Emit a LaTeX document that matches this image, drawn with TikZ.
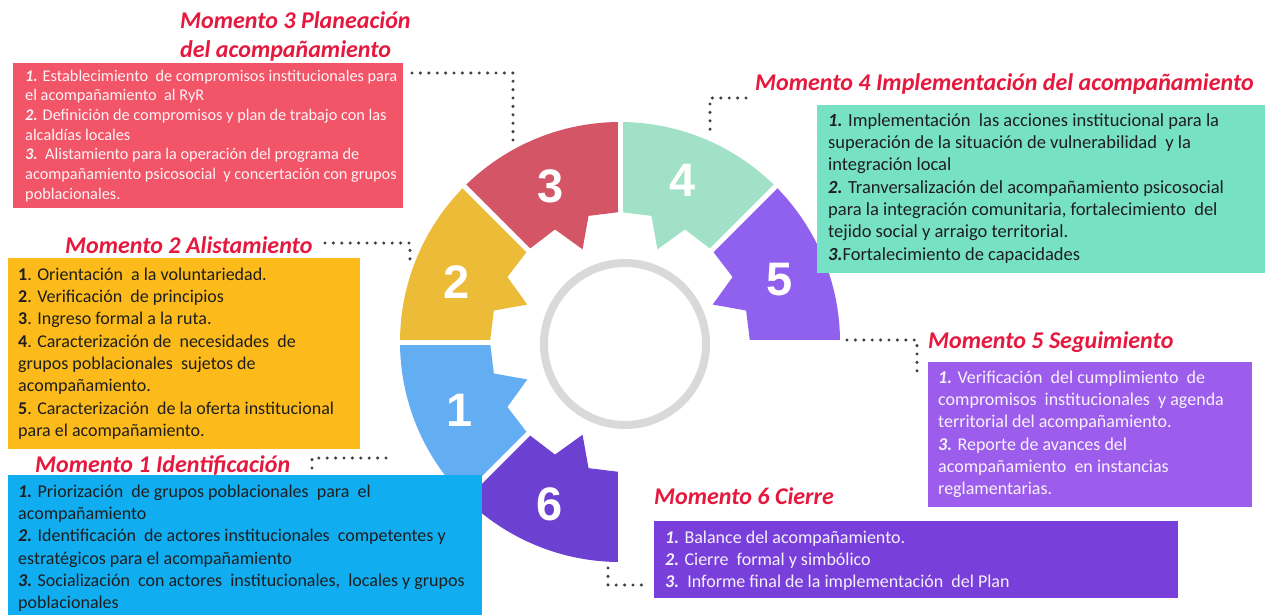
\documentclass[tikz,border=0pt]{standalone}
\usepackage{fontspec}
\setmainfont{Carlito}
\newfontfamily\digitfont{Liberation Sans}
\definecolor{segA}{HTML}{63AEF3}
\definecolor{segB}{HTML}{ECBC38}
\definecolor{segC}{HTML}{D45566}
\definecolor{segD}{HTML}{A1E1C7}
\definecolor{segE}{HTML}{9061EE}
\definecolor{segF}{HTML}{6C41D2}
\definecolor{boxC}{HTML}{F25568}
\definecolor{boxB}{HTML}{FCBB1B}
\definecolor{boxA}{HTML}{10AEF1}
\definecolor{boxD}{HTML}{77E1C5}
\definecolor{boxE}{HTML}{9D5DEC}
\definecolor{boxF}{HTML}{793FDB}
\definecolor{ttl}{HTML}{E5183E}
\definecolor{dotc}{HTML}{3F3F4A}
\definecolor{ringc}{HTML}{D9D9D9}
\definecolor{darktxt}{HTML}{1E1E1E}
\newcommand{\nb}[1]{\textbf{\textit{#1}}}
\newcommand{\gseg}[3]{%
  \pgfmathsetmacro\gD{#1+45*#2}%
  \pgfmathsetmacro\gP{#1+30*#2}%
  \pgfmathsetmacro\gQ{#1+22*#2}%
  \pgfmathsetmacro\gS{#1+14*#2}%
  \fill[#3] (#1:220) arc[start angle=#1, end angle=\gD, radius=220]
    -- (\gD:130) -- (\gP:130) -- (\gQ:100) -- (\gS:130) -- (#1:130) -- cycle;
}
\begin{document}
\begin{tikzpicture}[x=1pt,y=-1pt,
  boxstyle/.style={anchor=north west, inner sep=0pt, outer sep=0pt, draw=none},
  body/.style={anchor=north west, inner sep=0pt, align=left, font=\fontsize{18}{22.3}\selectfont},
  ttlstyle/.style={inner sep=0pt, text=ttl, font=\fontsize{24}{28.5}\selectfont\bfseries\itshape},
  dig/.style={text=white, font=\digitfont\bfseries\fontsize{47}{47}\selectfont},
  dotline/.style={draw=dotc, line width=3.4pt, line cap=round, dash pattern=on 0pt off 8.4pt},
]
\useasboundingbox (0,0) rectangle (1265,614);

% ---- wheel ----
\begin{scope}[shift={(620,342)}, yscale=-1]
  \gseg{180}{1}{segA}
  \gseg{180}{-1}{segB}
  \gseg{90}{1}{segC}
  \gseg{90}{-1}{segD}
  \gseg{0}{1}{segE}
  \gseg{270}{-1}{segF}
  \foreach \a in {0,45,90,135,180,225,270}
    \draw[white, line width=5pt] (\a:105) -- (\a:230);
\end{scope}
\draw[ringc, line width=8pt] (625,344) circle[radius=81];

\node[dig] (n1) at (460,410) {1};
\node[dig] (n2) at (457,282) {2};
\node[dig] (n3) at (551,186) {3};
\node[dig] (n4) at (683,180) {4};
\node[dig] (n5) at (780,280) {5};
\node[dig] (n6) at (550,504) {6};

% ---- boxes ----
\node[boxstyle, fill=boxC, minimum width=390, minimum height=145] (b3) at (13,63) {};
\node[boxstyle, fill=boxB, minimum width=352, minimum height=191] (b2) at (8,258) {};
\node[boxstyle, fill=boxA, minimum width=474, minimum height=145] (b1) at (8,475) {};
\node[boxstyle, fill=boxD, minimum width=450, minimum height=168] (b4) at (817,105) {};
\node[boxstyle, fill=boxE, minimum width=324, minimum height=145] (b5) at (928,362) {};
\node[boxstyle, fill=boxF, minimum width=524, minimum height=77] (b6) at (654,521) {};

% ---- titles ----
\node[ttlstyle, anchor=north west, align=left] (t3) at (180,8.5) {\strut Momento 3 Planeación\\del acompañamiento};
\node[ttlstyle, anchor=base west] (t2) at (65,253) {Momento 2 Alistamiento};
\node[ttlstyle, anchor=base west] (t1) at (35,472) {Momento 1 Identificación};
\node[ttlstyle, anchor=base west] (t4) at (755,90) {Momento 4 Implementación del acompañamiento};
\node[ttlstyle, anchor=base west] (t5) at (928,348) {Momento 5 Seguimiento};
\node[ttlstyle, anchor=base west] (t6) at (654,504) {Momento 6 Cierre};

% ---- texts ----
\node[body, text=white!93!boxC, font=\fontsize{16.3}{19.7}\selectfont] (x3) at (25,67.2) {\strut\nb{1.} Establecimiento\ \ de compromisos institucionales para\\
el acompañamiento\ \ al RyR\\
\nb{2.} Definición de compromisos y plan de trabajo con las\\
alcaldías locales\\
\nb{3.}\ \ Alistamiento para la operación del programa de\\
acompañamiento psicosocial\ \ y concertación con grupos\\
poblacionales.};

\node[body, text=darktxt] (x2) at (18,264.4) {\strut\textbf{1}. Orientación\ \ a la voluntariedad.\\
\textbf{2}. Verificación\ \ de principios\\
\textbf{3}. Ingreso formal a la ruta.\\
\textbf{4}. Caracterización de\ \ necesidades\ \ de\\
grupos poblacionales\ \ sujetos de\\
acompañamiento.\\
\textbf{5}. Caracterización\ \ de la oferta institucional\\
para el acompañamiento.};

\node[body, text=darktxt] (x1) at (18,481.4) {\strut\nb{1.} Priorización\ \ de grupos poblacionales\ \ para\ \ el\\
acompañamiento\\
\nb{2.} Identificación\ \ de actores institucionales\ \ competentes y\\
estratégicos para el acompañamiento\\
\nb{3.} Socialización\ \ con actores\ \ institucionales,\ \ locales y grupos\\
poblacionales};

\node[body, text=darktxt, font=\fontsize{18.5}{22.3}\selectfont] (x4) at (828,110.4) {\strut\nb{1.} Implementación\ \ las acciones institucional para la\\
superación de la situación de vulnerabilidad\ \ y la\\
integración local\\
\nb{2.} Tranversalización del acompañamiento psicosocial\\
para la integración comunitaria, fortalecimiento\ \ del\\
tejido social y arraigo territorial.\\
\nb{3.}Fortalecimiento de capacidades};

\node[body, text=white!92!boxE] (x5) at (938,367.4) {\strut\nb{1.} Verificación\ \ del cumplimiento\ \ de\\
compromisos\ \ institucionales\ \ y agenda\\
territorial del acompañamiento.\\
\nb{3.} Reporte de avances del\\
acompañamiento\ \ en instancias\\
reglamentarias.};

\node[body, text=white!92!boxF] (x6) at (665,527.3) {\strut\nb{1.} Balance del acompañamiento.\\
\nb{2.} Cierre\ \ formal y simbólico\\
\nb{3.}\ \ Informe final de la implementación\ \ del Plan};

% ---- dotted connectors ----
\coordinate (d3a) at (412,73);
\coordinate (d3b) at (513,73);
\coordinate (d3c) at (513,143);
\draw[dotline] (d3a) -- (d3b) -- (d3c);

\coordinate (d2a) at (325,243);
\coordinate (d2b) at (410,243);
\coordinate (d2c) at (410,267);
\draw[dotline] (d2a) -- (d2b) -- (d2c);

\coordinate (d1a) at (386,458);
\coordinate (d1b) at (312,458);
\coordinate (d1c) at (312,468);
\draw[dotline] (d1a) -- (d1b) -- (d1c);

\coordinate (d4a) at (746,98);
\coordinate (d4b) at (710,98);
\coordinate (d4c) at (710,132);
\draw[dotline] (d4a) -- (d4b) -- (d4c);

\coordinate (d5a) at (847,340);
\coordinate (d5b) at (917,340);
\coordinate (d5c) at (917,372);
\draw[dotline] (d5a) -- (d5b) -- (d5c);

\coordinate (d6a) at (608,568);
\coordinate (d6b) at (608,585);
\coordinate (d6c) at (642,585);
\draw[dotline] (d6a) -- (d6b) -- (d6c);
\end{tikzpicture}
\end{document}
